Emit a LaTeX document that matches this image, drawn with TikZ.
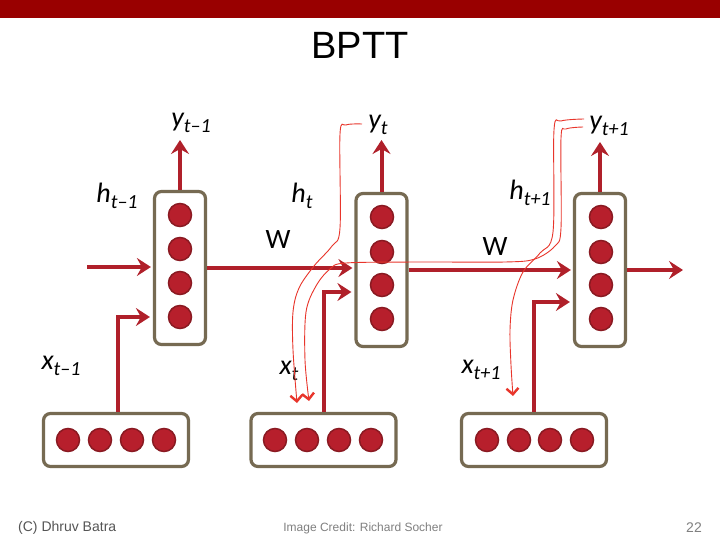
\documentclass[tikz,border=0pt]{standalone}
\usepackage{fontspec}
\setmainfont{Liberation Sans}
\newfontfamily\labfont{Carlito}
\usetikzlibrary{arrows.meta}
\definecolor{hdr}{HTML}{990000}
\definecolor{arrred}{HTML}{B0202A}
\definecolor{cfill}{HTML}{B71F2C}
\definecolor{cdraw}{HTML}{8A1A22}
\definecolor{boxc}{HTML}{766A52}
\definecolor{bpr}{HTML}{E8352B}
\definecolor{foot}{HTML}{555555}
\definecolor{foottwo}{HTML}{808080}
\newcommand\sublab[2]{{\labfont\itshape #1}\raisebox{-6pt}{\fontsize{20}{20}\selectfont\labfont\itshape #2}}
\begin{document}
\begin{tikzpicture}[x=1pt,y=-1pt,
  hbox/.style={draw=boxc,line width=3.2pt,rounded corners=7pt,fill=white,minimum width=51pt,minimum height=153pt,inner sep=0pt},
  ibox/.style={draw=boxc,line width=3.2pt,rounded corners=7pt,fill=white,minimum width=145pt,minimum height=53pt,inner sep=0pt},
  neuron/.style={circle,fill=cfill,draw=cdraw,line width=1.5pt,minimum size=23pt,inner sep=0pt},
  arr/.style={draw=arrred,line width=4pt,-{Stealth[length=14pt,width=18pt,inset=5pt]}},
  bp/.style={draw=bpr,line width=0.9pt,-{Straight Barb[length=6pt,width=12pt,line width=2.4pt]}},
  lab/.style={inner sep=0pt,font=\fontsize{28}{28}\selectfont},
  wlab/.style={inner sep=0pt,font=\fontsize{28}{28}\selectfont\labfont},
  foottxt/.style={inner sep=0pt,text=foot}]
\useasboundingbox (0,0) rectangle (720,540);
\fill[white] (0,0) rectangle (720,540);
\fill[hdr] (0,0) rectangle (720,18);
\node[inner sep=0pt,font=\fontsize{38}{38}\selectfont] (title) at (360,45) {BPTT};

% hidden boxes
\node[hbox] (h1) at (180,268) {};
\node[hbox] (h2) at (381.5,270) {};
\node[hbox] (h3) at (600,270) {};
\foreach \i/\y in {1/215,2/249,3/283,4/317}{\node[neuron] (a\i) at (180,\y) {};}
\foreach \i/\y in {1/217,2/252,3/285,4/319}{\node[neuron] (b\i) at (382,\y) {};}
\foreach \i/\y in {1/217,2/252,3/285,4/319}{\node[neuron] (c\i) at (601,\y) {};}

% input boxes
\node[ibox] (x1) at (116,440) {};
\node[ibox] (x2) at (323.5,440) {};
\node[ibox] (x3) at (534,440) {};
\foreach \i/\x in {1/68,2/100,3/132,4/164}{\node[neuron] (p\i) at (\x,440) {};}
\foreach \i/\x in {1/275,2/307,3/339,4/371}{\node[neuron] (q\i) at (\x,440) {};}
\foreach \i/\x in {1/487,2/519,3/550,4/582}{\node[neuron] (r\i) at (\x,440) {};}

% free ends
\coordinate (hin) at (87,267);
\coordinate (hout) at (683,270);
\coordinate (yo1) at (180,140);
\coordinate (yo2) at (381.5,140);
\coordinate (yo3) at (600,142);

% thick connectors
\draw[arr,shorten >=2pt] (hin) -- (hin -| h1.west);
\draw[arr,shorten >=2pt] (h1.east) -- (h1.east -| h2.west);
\draw[arr,shorten >=2pt] (h2.east) -- (h2.east -| h3.west);
\draw[arr] (h3.east) -- (hout);
\draw[arr] (h1.north) -- (yo1);
\draw[arr] (h2.north) -- (yo2);
\draw[arr] (h3.north) -- (yo3);
\draw[arr,shorten >=3pt] ([xshift=2pt]x1.north) |- ([yshift=-49pt]h1.west);
\draw[arr,shorten >=3pt] (x2.north) |- ([yshift=-22pt]h2.west);
\draw[arr,shorten >=3pt] (x3.north) |- ([yshift=-32pt]h3.west);

% labels
\node[lab] (ly1) at (191,123) {\sublab{y}{t–1}};
\node[lab] (lh1) at (117,196) {\sublab{h}{t–1}};
\node[lab] (lx1) at (61,366) {\sublab{x}{t–1}};
\node[lab] (ly2) at (378,125) {\sublab{y}{t}};
\node[lab] (lh2) at (302,196) {\sublab{h}{t}};
\node[lab] (lx2) at (289,371) {\sublab{x}{t}};
\node[lab] (ly3) at (609,126) {\sublab{y}{t+1}};
\node[lab] (lh3) at (530,193) {\sublab{h}{t+1}};
\node[lab] (lx3) at (481,370) {\sublab{x}{t+1}};
\node[wlab] (w1) at (278,240) {W};
\node[wlab] (w2) at (495,247) {W};

% backprop paths
\draw[bp] plot[smooth,tension=0.55] coordinates {(362,124) (346,125) (340,134) (340,228) (332,246) (314,266) (299,288) (293,312) (293,350) (297,403)};
\draw[bp] plot[smooth,tension=0.55] coordinates {(583,127) (566,129) (561,138) (561,228) (555,246) (535,259) (505,262) (420,262) (346,263) (330,269) (316,286) (306,312) (305,360) (309,401)};
\draw[bp] plot[smooth,tension=0.55] coordinates {(584,119) (561,121) (554,130) (553,232) (540,253) (523,272) (513,300) (510,330) (511,365) (513,396)};

% footer
\node[foottxt,anchor=west,font=\fontsize{14}{14}\selectfont] (f1) at (18,528) {(C) Dhruv Batra};
\node[foottxt,text=foottwo,font=\fontsize{12}{12}\selectfont] (f2) at (363,528) {Image Credit: Richard Socher};
\node[foottxt,text=foottwo,anchor=east,font=\fontsize{14}{14}\selectfont] (f3) at (702,528) {22};
\end{tikzpicture}
\end{document}
